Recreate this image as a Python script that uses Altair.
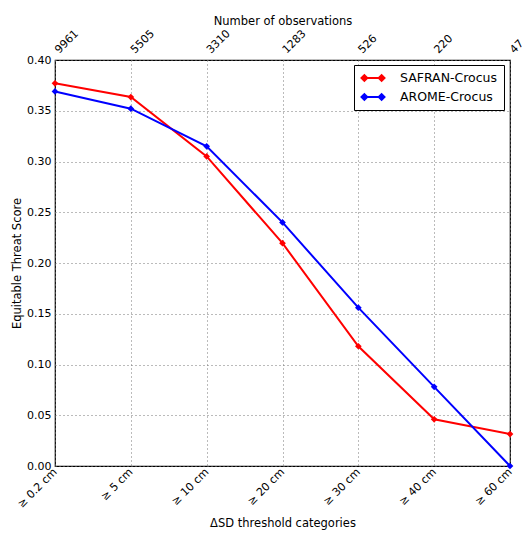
import altair as alt
import pandas as pd

# Threshold categories on the bottom axis and observation counts on the top axis
categories = ["≥ 0.2 cm", "≥ 5 cm", "≥ 10 cm", "≥ 20 cm", "≥ 30 cm", "≥ 40 cm", "≥ 60 cm"]
n_obs = [9961, 5505, 3310, 1283, 526, 220, 47]

# Equitable Threat Score per threshold
safran = [0.377, 0.3635, 0.305, 0.2195, 0.118, 0.046, 0.0315]
arome = [0.369, 0.352, 0.315, 0.240, 0.156, 0.078, 0.0]

series_names = ["SAFRAN-Crocus", "AROME-Crocus"]
series_colors = ["#ff0000", "#0000ff"]

rows = []
for name, vals in zip(series_names, [safran, arome]):
    for i, v in enumerate(vals):
        rows.append({"idx": i, "ets": v, "series": name})
df = pd.DataFrame(rows)

obs_df = pd.DataFrame({"idx": list(range(len(n_obs))), "count": [str(n) for n in n_obs]})

FONT = "DejaVu Sans"


def js_list(items):
    return "[" + ",".join("'" + str(s) + "'" for s in items) + "]"


x_scale = alt.Scale(domain=[0, 6], nice=False, zero=False)
y_scale = alt.Scale(domain=[0, 0.4], nice=False)
color_scale = alt.Scale(domain=series_names, range=series_colors)

# Legend glyph: a short line with a diamond at each end
legend_path = (
    "M-1.5,0L1.5,0"
    "M-2,0L-1.5,-0.5L-1,0L-1.5,0.5Z"
    "M1,0L1.5,-0.5L2,0L1.5,0.5Z"
)

legend = alt.Legend(
    title=None,
    orient="none",
    legendX=299,
    legendY=5,
    symbolType=legend_path,
    symbolSize=132,
    symbolStrokeWidth=2,
    symbolOpacity=1,
    symbolOffset=6,
    labelOffset=20,
    labelFont=FONT,
    labelFontSize=12.5,
    labelColor="black",
    padding=6,
    rowPadding=5,
    strokeColor="black",
    fillColor="white",
    cornerRadius=0,
)

color_enc = alt.Color("series:N", scale=color_scale, sort=series_names, legend=legend)

x_bottom = alt.X(
    "idx:Q",
    scale=x_scale,
    axis=alt.Axis(
        orient="bottom",
        values=list(range(7)),
        labelExpr=js_list(categories) + "[datum.value]",
        labelAngle=315,
        labelAlign="right",
        labelBaseline="middle",
        labelPadding=4,
        title="ΔSD threshold categories",
        titlePadding=8,
        titleFontWeight="normal",
        grid=True,
        gridDash=[1, 3],
        gridColor="#777777",
        ticks=False,
        domain=False,
    ),
)

y_enc = alt.Y(
    "ets:Q",
    scale=y_scale,
    axis=alt.Axis(
        values=[round(0.05 * k, 2) for k in range(9)],
        format=".2f",
        title="Equitable Threat Score",
        titlePadding=4,
        titleFontWeight="normal",
        grid=True,
        gridDash=[1, 3],
        gridColor="#777777",
        ticks=False,
        domain=False,
        labelPadding=4,
    ),
)

lines = alt.Chart(df).mark_line(strokeWidth=2).encode(
    x=x_bottom,
    y=y_enc,
    color=color_enc,
    detail="series:N",
)

points = alt.Chart(df).mark_point(
    shape="diamond", filled=True, size=45, strokeWidth=0.6, opacity=1
).encode(
    x=alt.X("idx:Q", scale=x_scale, axis=None),
    y=alt.Y("ets:Q", scale=y_scale),
    color=color_enc,
)

# Top axis: title only; the counts are drawn as rotated text above each tick
top_axis = alt.Chart(obs_df).mark_text(
    angle=315,
    align="left",
    baseline="middle",
    font=FONT,
    fontSize=11,
    color="black",
    dx=3,
).encode(
    x=alt.X(
        "idx:Q",
        scale=x_scale,
        axis=alt.Axis(
            orient="top",
            values=list(range(7)),
            labels=False,
            title="Number of observations",
            titlePadding=34,
            titleFontWeight="normal",
            grid=False,
            ticks=False,
            domain=False,
        ),
    ),
    y=alt.value(-6),
    text="count:N",
)

chart = (
    alt.layer(lines, points, top_axis)
    .resolve_axis(x="independent")
    .properties(
        width=455,
        height=406,
        background="white",
        autosize=alt.AutoSizeParams(type="none"),
        padding={"left": 55, "top": 60, "right": 14, "bottom": 69},
    )
    .configure_view(stroke="black", strokeWidth=1.2)
    .configure_axis(
        labelFont=FONT,
        titleFont=FONT,
        labelFontSize=11,
        titleFontSize=11.5,
        titleFontWeight="normal",
        labelColor="black",
        titleColor="black",
    )
)

chart.save("out.html", embed_options={"renderer": "svg", "actions": False})
